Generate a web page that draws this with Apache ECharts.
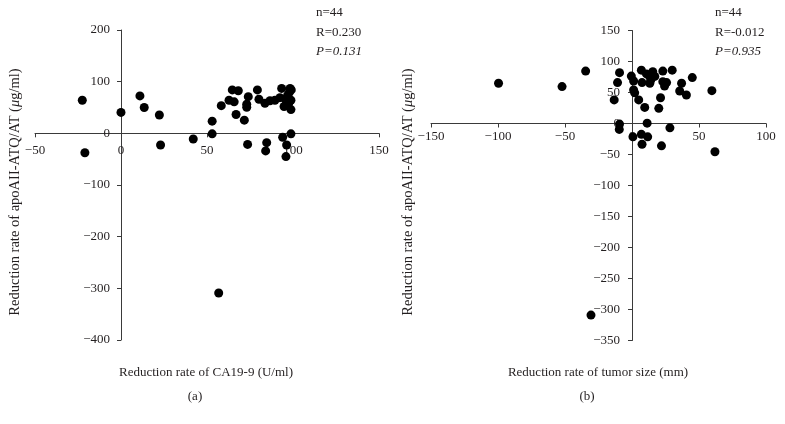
<!DOCTYPE html>
<html><head><meta charset="utf-8">
<script src="https://cdn.jsdelivr.net/npm/echarts@6/dist/echarts.min.js"></script>
<style>html,body{margin:0;padding:0;background:#fff}#c{width:785px;height:424px}</style>
</head><body><div id="c"></div>
<script>
// Panel (a): reduction rate of CA19-9 vs apoAII-ATQ/AT
var aX = [-22.5,-21,0,11,13.5,22.3,23,42,53,53,58.3,56.8,62.8,64.7,65.8,68.2,66.9,71.7,73.1,73.1,74,73.6,79.3,80.2,83.7,84.7,84.1,86.6,89.5,92.4,93.4,94.8,94,96.3,95.9,96.9,97.5,98.3,98.8,98.8,98.8,95.5,98,99];
var aY = [64,-37.5,40.5,72.5,50,35.5,-22.5,-11,23.5,-1,53.5,-309,64,84,61,82.5,36.5,25.5,56.5,50.5,71,-21.5,84,66,58,-18,-34,63,64,69,87,52,-7.5,-22.5,-45,74,58,87,64,46,-1,66,80,84];
// Panel (b): reduction rate of tumor size vs apoAII-ATQ/AT
var bX = [-99.6,-52.2,-34.6,-13.3,-10.8,-9.3,-9.3,-9.5,-0.5,1.2,1.2,2,0.7,5,7,7.5,7,7.5,9.5,10.8,11.3,11.7,13.3,13.8,15.5,20,21.3,22,23,23,24.3,25.8,28.3,30,35.6,37,40.6,45,59.6,61.9,-30.6,14,12.5,17];
var bY = [65,59.5,84.5,38,66,82,-1,-9.5,76.5,68.5,54,49.5,-21.5,38,86,66,-17.5,-33.5,26,80,0.5,-21.5,65,74.5,83.5,24.5,41.5,-36,84.5,67.5,60.5,66,-7,86,52.5,65,46,74,53,-45.5,-309,70,78,76];
var aXTicks = [-50, 150, 50];   // min, max, interval
var aYTicks = [-400, 200, 100];
var bXTicks = [-150, 100, 50];
var bYTicks = [-350, 150, 50];
var statsA = ['n=44', 'R=0.230', 'P=0.131'];
var statsB = ['n=44', 'R=-0.012', 'P=0.935'];
var xTitleA = 'Reduction rate of CA19-9 (U/ml)';
var xTitleB = 'Reduction rate of tumor size (mm)';
var panelA = '(a)', panelB = '(b)';

function zip(xs, ys){ return xs.map(function(v,i){return [v, ys[i]];}); }
var FONT = '"Liberation Serif", "DejaVu Serif", serif';
var TXT = '#231f20';
var grids = [
  {left:35, top:30, width:344, height:310},
  {left:431, top:30.5, width:335, height:310}
];
// offset an axis so that it sits where the other axis has value 0 (labels move with it)
function zeroOffset(range, size){ return -(size * (0 - range[0]) / (range[1] - range[0])); }
function axisCommon(t, labelMargin){
  return {
    type:'value', min:t[0], max:t[1], interval:t[2],
    axisLine:{show:true, onZero:false, lineStyle:{color:'#3a3a3a', width:1}},
    axisTick:{show:true, length:4, lineStyle:{color:'#3a3a3a'}},
    axisLabel:{color:TXT, fontFamily:FONT, fontSize:13, margin:labelMargin,
      formatter:function(v){ return v < 0 ? '\u2212' + Math.abs(v) : String(v); }},
    splitLine:{show:false}
  };
}
var xa0 = axisCommon(aXTicks, 11); xa0.gridIndex = 0; xa0.position = 'bottom';
xa0.offset = zeroOffset(aYTicks, grids[0].height);
var ya0 = axisCommon(aYTicks, 11); ya0.gridIndex = 0; ya0.position = 'left';
ya0.offset = zeroOffset(aXTicks, grids[0].width);
var xa1 = axisCommon(bXTicks, 7); xa1.gridIndex = 1; xa1.position = 'bottom';
xa1.offset = zeroOffset(bYTicks, grids[1].height);
var ya1 = axisCommon(bYTicks, 12); ya1.gridIndex = 1; ya1.position = 'left';
ya1.offset = zeroOffset(bXTicks, grids[1].width);

function statText(lines, x){
  return [
    {type:'text', left:x, top:6, style:{text:lines[0], font:'13px '+FONT, fill:TXT}},
    {type:'text', left:x, top:26, style:{text:lines[1], font:'13px '+FONT, fill:TXT}},
    {type:'text', left:x, top:45, style:{text:lines[2], font:'italic 13px '+FONT, fill:TXT}}
  ];
}
function yTitle(cx){
  return {type:'text', x:cx, y:192, rotation:Math.PI/2,
    style:{text:'{a|Reduction rate of apoAII-ATQ/AT (}{i|\u03bc}{a|g/ml)}', align:'center', verticalAlign:'middle',
      rich:{a:{fontFamily:FONT, fontSize:14.5, fill:TXT}, i:{fontFamily:FONT, fontSize:14.5, fontStyle:'italic', fill:TXT}}}};
}
function cText(s, cx, cy){
  return {type:'text', x:cx, y:cy, style:{text:s, font:'13px '+FONT, fill:TXT, align:'center', verticalAlign:'middle'}};
}

var chart = echarts.init(document.getElementById('c'), null, {renderer:'canvas'});
chart.setOption({
  animation:false,
  backgroundColor:'#fff',
  grid:grids,
  xAxis:[xa0, xa1],
  yAxis:[ya0, ya1],
  series:[
    {type:'scatter', xAxisIndex:0, yAxisIndex:0, data:zip(aX, aY), symbolSize:9, itemStyle:{color:'#000', opacity:1}},
    {type:'scatter', xAxisIndex:1, yAxisIndex:1, data:zip(bX, bY), symbolSize:9, itemStyle:{color:'#000', opacity:1}}
  ],
  graphic: [].concat(
    statText(statsA, 316), statText(statsB, 715),
    [yTitle(15), yTitle(408),
     cText(xTitleA, 206, 373), cText(panelA, 195, 397),
     cText(xTitleB, 598, 373), cText(panelB, 587, 397)]
  )
});
</script></body></html>
